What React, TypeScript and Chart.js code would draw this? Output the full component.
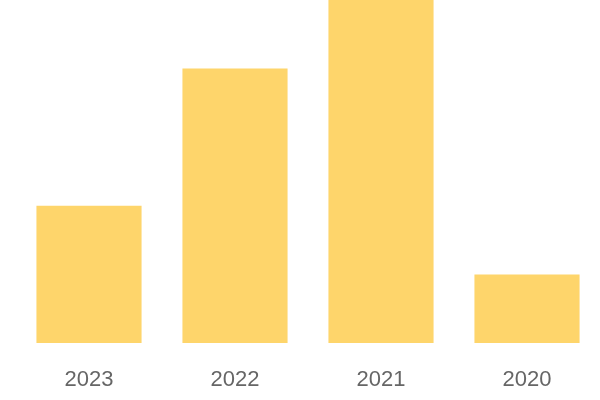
import React, { useEffect, useRef } from "react";
import { Chart, registerables } from "chart.js";

Chart.register(...registerables);

const categories = ["2023", "2022", "2021", "2020"];
const values = [2, 4, 5, 1];
const barColor = "rgb(254, 213, 107)";

export default function App() {
  const ref = useRef<HTMLCanvasElement | null>(null);
  useEffect(() => {
    if (!ref.current) return;
    const chart = new Chart(ref.current, {
      type: "bar",
      data: {
        labels: categories,
        datasets: [
          {
            data: values,
            backgroundColor: barColor,
            borderWidth: 0,
            barPercentage: 0.9,
            categoryPercentage: 0.8,
          },
        ],
      },
      options: {
        responsive: false,
        animation: false,
        layout: { padding: { left: 16, right: 0, top: 0, bottom: 7 } },
        plugins: { legend: { display: false }, tooltip: { enabled: false } },
        scales: {
          x: {
            grid: { display: false, drawTicks: false },
            border: { display: false },
            afterFit: (scale: any) => {
              scale.height = 50;
            },
            ticks: {
              color: "#666666",
              padding: 24,
              font: { family: "'Liberation Sans', Arial, sans-serif", size: 22 },
            },
          },
          y: {
            display: false,
            min: 0,
            max: 5,
          },
        },
      },
    });
    return () => chart.destroy();
  }, []);
  return (
    <div style={{ position: "absolute", left: 0, top: 0, width: 600, height: 400 }}>
      <canvas ref={ref} width={600} height={400} style={{ display: "block" }} />
    </div>
  );
}
